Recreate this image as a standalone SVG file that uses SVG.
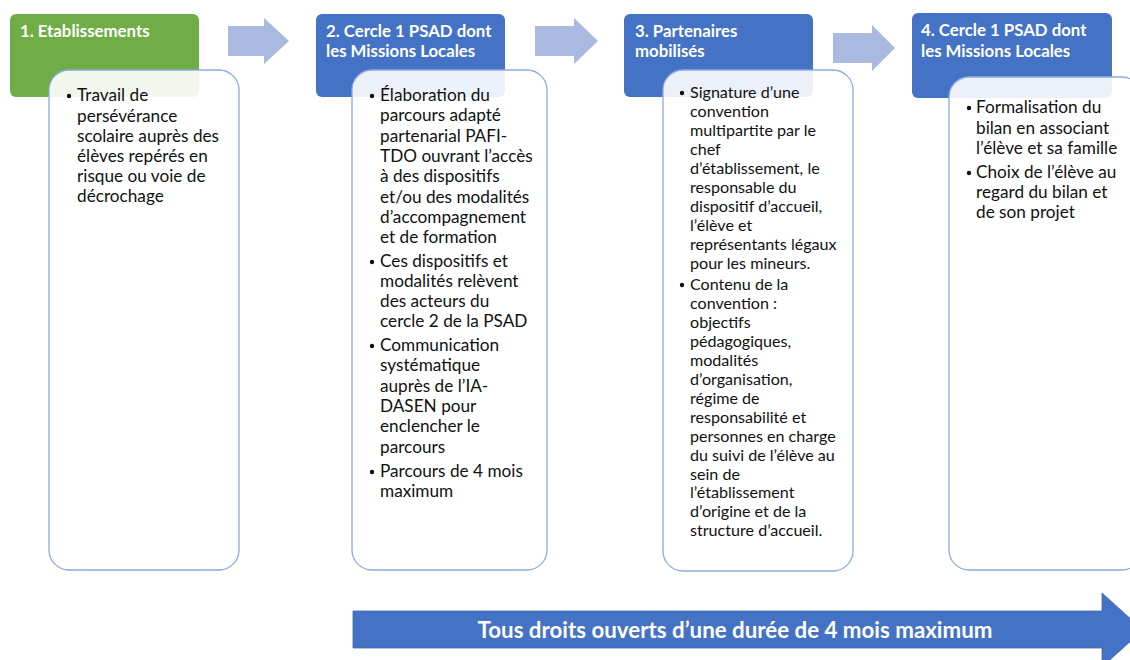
<svg xmlns="http://www.w3.org/2000/svg" width="1130" height="660" viewBox="0 0 1130 660">
<style>
.hdr{stroke:none}
.hg{fill:#70AD47}
.hb{fill:#4472C4}
.ht{font-family:Lato,"Liberation Sans",sans-serif;font-weight:bold;font-size:16.8px;fill:#fff}
.body{fill:#fff;fill-opacity:0.9;stroke:#8FAADC;stroke-width:1.3}
.bt{font-family:Lato,"Liberation Sans",sans-serif;font-size:17.2px;fill:#111}
.bt3{font-family:Lato,"Liberation Sans",sans-serif;font-size:16.1px;fill:#111}
.dot{fill:#111}
.sa{fill:#AAB9DF}
.big{fill:#4472C4;stroke:#3E67B1;stroke-width:0.8}
.bigt{font-family:Lato,"Liberation Sans",sans-serif;font-weight:bold;font-size:22.3px;fill:#fff}
</style>
<rect width="1130" height="660" fill="#fff"/>

<g id="node1">
<rect class="hdr hg" x="10" y="14" width="189" height="83" rx="6"/>
<text class="ht" x="20" y="37">1. Etablissements</text>
<rect class="body" x="49" y="70" width="190" height="500" rx="20"/>
<circle class="dot" cx="69" cy="96" r="2.2"/>
<text class="bt" x="77" y="101">Travail de</text>
<text class="bt" x="77" y="121.5">persévérance</text>
<text class="bt" x="77" y="142">scolaire auprès des</text>
<text class="bt" x="77" y="162">élèves repérés en</text>
<text class="bt" x="77" y="182">risque ou voie de</text>
<text class="bt" x="77" y="202">décrochage</text>
</g>

<g id="node2">
<rect class="hdr hb" x="316" y="14" width="189" height="83" rx="6"/>
<text class="ht" x="326" y="37">2. Cercle 1 PSAD dont</text>
<text class="ht" x="326" y="57">les Missions Locales</text>
<rect class="body" x="352" y="70" width="195" height="500" rx="20"/>
<circle class="dot" cx="372" cy="96" r="2.2"/>
<text class="bt" x="380" y="101">Élaboration du</text>
<text class="bt" x="380" y="121.3">parcours adapté</text>
<text class="bt" x="380" y="141.6">partenarial PAFI-</text>
<text class="bt" x="380" y="161.9">TDO ouvrant l’accès</text>
<text class="bt" x="380" y="182.2">à des dispositifs</text>
<text class="bt" x="380" y="202.5">et/ou des modalités</text>
<text class="bt" x="380" y="222.8">d’accompagnement</text>
<text class="bt" x="380" y="243">et de formation</text>
<circle class="dot" cx="372" cy="262" r="2.2"/>
<text class="bt" x="380" y="267">Ces dispositifs et</text>
<text class="bt" x="380" y="287">modalités relèvent</text>
<text class="bt" x="380" y="307">des acteurs du</text>
<text class="bt" x="380" y="327">cercle 2 de la PSAD</text>
<circle class="dot" cx="372" cy="346" r="2.2"/>
<text class="bt" x="380" y="351">Communication</text>
<text class="bt" x="380" y="371.3">systématique</text>
<text class="bt" x="380" y="391.6">auprès de l’IA-</text>
<text class="bt" x="380" y="411.9">DASEN pour</text>
<text class="bt" x="380" y="432.2">enclencher le</text>
<text class="bt" x="380" y="452.5">parcours</text>
<circle class="dot" cx="372" cy="472" r="2.2"/>
<text class="bt" x="380" y="477">Parcours de 4 mois</text>
<text class="bt" x="380" y="497.3">maximum</text>
</g>

<g id="node3">
<rect class="hdr hb" x="624" y="14" width="189" height="83" rx="6"/>
<text class="ht" x="635" y="37">3. Partenaires</text>
<text class="ht" x="635" y="57">mobilisés</text>
<rect class="body" x="663" y="70" width="190" height="501" rx="20"/>
<circle class="dot" cx="682" cy="93" r="2.2"/>
<text class="bt3" x="690" y="98">Signature d’une</text>
<text class="bt3" x="690" y="117">convention</text>
<text class="bt3" x="690" y="136">multipartite par le</text>
<text class="bt3" x="690" y="155">chef</text>
<text class="bt3" x="690" y="174">d’établissement, le</text>
<text class="bt3" x="690" y="193">responsable du</text>
<text class="bt3" x="690" y="212">dispositif d’accueil,</text>
<text class="bt3" x="690" y="231">l’élève et</text>
<text class="bt3" x="690" y="250">représentants légaux</text>
<text class="bt3" x="690" y="268.5">pour les mineurs.</text>
<circle class="dot" cx="682" cy="285" r="2.2"/>
<text class="bt3" x="690" y="290">Contenu de la</text>
<text class="bt3" x="690" y="309">convention :</text>
<text class="bt3" x="690" y="328">objectifs</text>
<text class="bt3" x="690" y="347">pédagogiques,</text>
<text class="bt3" x="690" y="366">modalités</text>
<text class="bt3" x="690" y="385">d’organisation,</text>
<text class="bt3" x="690" y="404">régime de</text>
<text class="bt3" x="690" y="423">responsabilité et</text>
<text class="bt3" x="690" y="441.5">personnes en charge</text>
<text class="bt3" x="690" y="460.5">du suivi de l’élève au</text>
<text class="bt3" x="690" y="479.5">sein de</text>
<text class="bt3" x="690" y="498">l’établissement</text>
<text class="bt3" x="690" y="517">d’origine et de la</text>
<text class="bt3" x="690" y="536">structure d’accueil.</text>
</g>

<g id="node4">
<rect class="hdr hb" x="912" y="13" width="200" height="85" rx="6"/>
<text class="ht" x="921" y="36">4. Cercle 1 PSAD dont</text>
<text class="ht" x="921" y="57">les Missions Locales</text>
<rect class="body" x="949" y="77" width="193" height="493" rx="20"/>
<circle class="dot" cx="969" cy="108" r="2.2"/>
<text class="bt" x="976" y="113">Formalisation du</text>
<text class="bt" x="976" y="133.5">bilan en associant</text>
<text class="bt" x="976" y="154">l’élève et sa famille</text>
<circle class="dot" cx="969" cy="173" r="2.2"/>
<text class="bt" x="976" y="178">Choix de l’élève au</text>
<text class="bt" x="976" y="198">regard du bilan et</text>
<text class="bt" x="976" y="218">de son projet</text>
</g>

<g id="connectors">
<polygon class="sa" points="228,26 264,26 264,18 289,41 264,64 264,56 228,56"/>
<polygon class="sa" points="535,26 574,26 574,18 598,41 574,64 574,56 535,56"/>
<polygon class="sa" points="833,33 872,33 872,25 895,48 872,71 872,63 833,63"/>
<polygon class="big" points="353,611 1102,611 1102,593 1143,630 1102,667 1102,648 353,648"/>
<text class="bigt" x="735" y="638" text-anchor="middle">Tous droits ouverts d’une durée de 4 mois maximum</text>
</g>
</svg>
